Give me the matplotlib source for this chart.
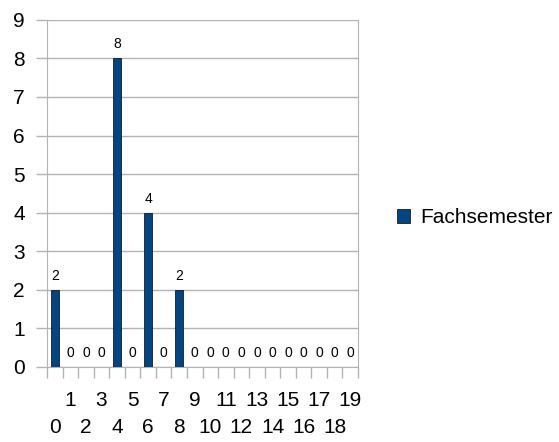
import matplotlib
matplotlib.use('Agg')
import matplotlib.pyplot as plt

plt.rcParams['font.family'] = ['Liberation Sans', 'DejaVu Sans']

# Daten
categories = list(range(20))
values = [2, 0, 0, 0, 8, 0, 4, 0, 2, 0, 0, 0, 0, 0, 0, 0, 0, 0, 0, 0]
series_name = 'Fachsemester'
bar_color = '#004586'
grid_color = '#b3b3b3'

fig = plt.figure(figsize=(5.59, 4.42), dpi=100)
ax = fig.add_axes([0.0841, 0.1697, 0.5564, 0.7855])

bars = ax.bar(categories, values, width=0.5, color=bar_color,
              edgecolor='#1a1a1a', linewidth=0.6, label=series_name, zorder=3)
ax.bar_label(bars, labels=[str(v) for v in values], padding=5, fontsize=10)

ax.set_xlim(-0.5, len(categories) - 0.5)
ax.set_ylim(0, 9)
ax.set_yticks(range(10))
ax.tick_params(axis='y', labelsize=15, length=8, color=grid_color, width=1, pad=8)

# Ticks an den Kategoriegrenzen (ohne Beschriftung)
ax.set_xticks([c - 0.5 for c in categories] + [len(categories) - 0.5], minor=True)
ax.tick_params(axis='x', which='minor', length=8, color=grid_color, width=1)

# ungerade Kategorien in der ersten Zeile
odd = [c for c in categories if c % 2]
ax.set_xticks(odd)
ax.set_xticklabels([str(c) for c in odd])
ax.tick_params(axis='x', which='major', length=0, labelsize=15, pad=17)

# gerade Kategorien in der zweiten Zeile
even = [c for c in categories if c % 2 == 0]
sec = ax.secondary_xaxis('bottom')
sec.set_xticks(even)
sec.set_xticklabels([str(c) for c in even])
sec.tick_params(axis='x', length=0, labelsize=15, pad=37)
sec.spines['bottom'].set_visible(False)

ax.grid(axis='y', color=grid_color, linewidth=1, zorder=0)
ax.spines['top'].set_visible(False)
for side in ['left', 'right', 'bottom']:
    ax.spines[side].set_color(grid_color)

fig.legend(loc='center left', bbox_to_anchor=(0.695, 0.507), frameon=False,
           fontsize=15, handlelength=0.65, handleheight=0.65, handletextpad=0.45,
           borderaxespad=0)

fig.savefig('out.png', dpi=100, facecolor='white')
